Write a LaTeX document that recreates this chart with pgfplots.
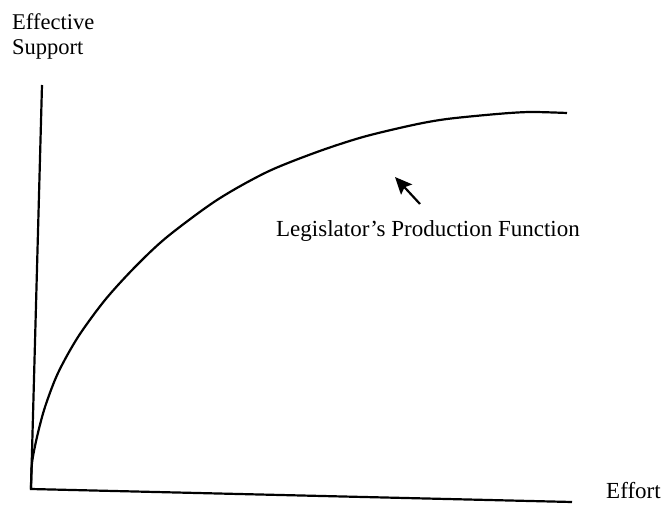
\documentclass[border=0pt]{standalone}
\usepackage{pgfplots}
\pgfplotsset{compat=1.18}
\usepackage{fontspec}
\setmainfont{Liberation Serif}
\usetikzlibrary{arrows.meta}
\begin{document}
\begin{tikzpicture}
\begin{axis}[
  anchor=origin, at={(0,0)},
  scale only axis, width=541pt, height=404pt,
  xmin=0, xmax=541, ymin=0, ymax=404,
  axis lines=none, clip=false,
]
\path (axis cs:-31,-15) rectangle (axis cs:632,489);
% axes (slightly slanted as in the scan)
\addplot[black, line width=2.2pt] coordinates {(11,404) (0,0) (541,-13)};
% production function
\addplot[black, line width=2.2pt, smooth, tension=0.5] coordinates {
 (0,0) (1,26) (6,52) (14,82) (27,116) (47,152) (74,189) (104,222)
 (136,252) (186,289) (236,317) (286,337) (332,352) (382,364) (416,370)
 (466,375) (499,377) (536,376)};
\node[anchor=north west, align=left, font=\fontsize{22.5}{25}\selectfont, inner sep=0pt]
  at (axis cs:-19,476) {Effective\\Support};
\node[anchor=west, font=\fontsize{23}{26}\selectfont, inner sep=0pt]
  at (axis cs:575,-2) {Effort};
\node[font=\fontsize{23}{26}\selectfont, inner sep=0pt]
  at (axis cs:397,258) {Legislator's Production Function};
\draw[line width=2.2pt, -{Stealth[length=17pt,width=15pt,inset=3pt]}] (axis cs:389,285) -- (axis cs:364,312);
\end{axis}
\end{tikzpicture}
\end{document}
